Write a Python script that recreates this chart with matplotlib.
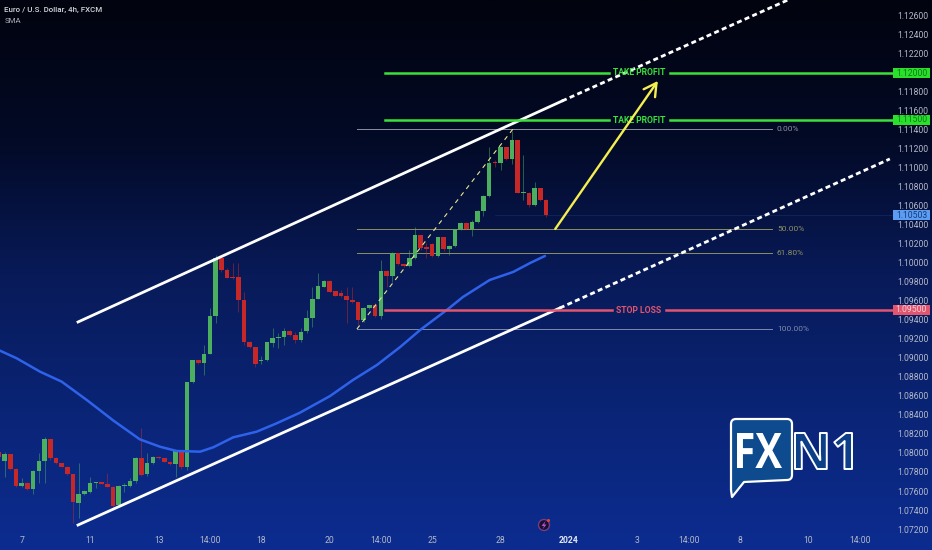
import numpy as np
import matplotlib
matplotlib.use('Agg')
import matplotlib.pyplot as plt
from matplotlib.colors import LinearSegmentedColormap
from matplotlib.font_manager import FontProperties
from matplotlib.patches import Circle, FancyArrowPatch, PathPatch, Polygon
from matplotlib.path import Path
from matplotlib.textpath import TextPath
from matplotlib.transforms import Affine2D

plt.rcParams['font.family'] = ['Roboto', 'DejaVu Sans']

opens = [1.08013, 1.07919, 1.07989, 1.07828, 1.07652, 1.07687, 1.07624, 1.07806, 1.07915, 1.08150,
         1.07947, 1.07891, 1.07849, 1.07778, 1.07477, 1.07568, 1.07592, 1.07684, 1.07691, 1.07673,
         1.07645, 1.07452, 1.07652, 1.07656, 1.07701, 1.07943, 1.07775, 1.07891, 1.07957, 1.07943,
         1.07908, 1.07884, 1.08017, 1.07849, 1.08743, 1.08975, 1.08947, 1.09045, 1.09442, 1.10049,
         1.09926, 1.09852, 1.09849, 1.09610, 1.09171, 1.09112, 1.08971, 1.08978, 1.09161, 1.09207,
         1.09217, 1.09284, 1.09242, 1.09189, 1.09284, 1.09417, 1.09624, 1.09751, 1.09814, 1.09702,
         1.09681, 1.09652, 1.09610, 1.09586, 1.09400, 1.09526, 1.09554, 1.09446, 1.09916, 1.09867,
         1.10109, 1.09986, 1.09969, 1.10049, 1.10295, 1.10165, 1.10197, 1.10078, 1.10274, 1.10148,
         1.10179, 1.10355, 1.10425, 1.10362, 1.10435, 1.10551, 1.10706, 1.11067, 1.11057, 1.11218,
         1.11092, 1.11295, 1.10734, 1.10741, 1.10611, 1.10793, 1.10664]
highs = [1.08031, 1.08013, 1.07989, 1.07838, 1.07733, 1.07698, 1.07821, 1.07996, 1.08171, 1.08150,
         1.07954, 1.07898, 1.07863, 1.07778, 1.07891, 1.07606, 1.07750, 1.07698, 1.07698, 1.07785,
         1.07652, 1.07663, 1.07680, 1.07733, 1.07961, 1.08259, 1.07996, 1.07968, 1.07965, 1.07950,
         1.07915, 1.08031, 1.08031, 1.08743, 1.08979, 1.08982, 1.09136, 1.09522, 1.10084, 1.10049,
         1.09943, 1.09996, 1.09996, 1.09698, 1.09178, 1.09119, 1.09021, 1.09171, 1.09312, 1.09259,
         1.09312, 1.09294, 1.09277, 1.09312, 1.09505, 1.09751, 1.09891, 1.09821, 1.09821, 1.09709,
         1.09716, 1.09751, 1.09751, 1.09586, 1.09540, 1.09561, 1.09575, 1.10032, 1.09927, 1.10120,
         1.10109, 1.09993, 1.10137, 1.10383, 1.10295, 1.10207, 1.10207, 1.10278, 1.10274, 1.10190,
         1.10358, 1.10435, 1.10432, 1.10453, 1.10558, 1.10716, 1.11225, 1.11085, 1.11232, 1.11225,
         1.11393, 1.11295, 1.11137, 1.10751, 1.10857, 1.10793, 1.10671]
lows = [1.07954, 1.07750, 1.07821, 1.07638, 1.07645, 1.07610, 1.07568, 1.07680, 1.07680, 1.07926,
        1.07884, 1.07849, 1.07768, 1.07259, 1.07312, 1.07561, 1.07575, 1.07627, 1.07670, 1.07638,
        1.07435, 1.07435, 1.07592, 1.07645, 1.07687, 1.07757, 1.07757, 1.07884, 1.07940, 1.07901,
        1.07877, 1.07750, 1.07835, 1.07821, 1.08733, 1.08940, 1.08821, 1.09042, 1.09364, 1.09908,
        1.09838, 1.09835, 1.09487, 1.09136, 1.09105, 1.08908, 1.08936, 1.08971, 1.09119, 1.09101,
        1.09136, 1.09235, 1.09154, 1.09171, 1.09266, 1.09323, 1.09617, 1.09744, 1.09691, 1.09649,
        1.09638, 1.09365, 1.09575, 1.09347, 1.09382, 1.09519, 1.09435, 1.09407, 1.09751, 1.09804,
        1.09979, 1.09962, 1.09955, 1.10042, 1.10137, 1.10049, 1.10067, 1.10067, 1.10130, 1.10085,
        1.10165, 1.10348, 1.10355, 1.10285, 1.10418, 1.10495, 1.10699, 1.11007, 1.10979, 1.11085,
        1.11043, 1.10734, 1.10664, 1.10593, 1.10604, 1.10657, 1.10481]
closes = [1.07961, 1.07989, 1.07828, 1.07652, 1.07687, 1.07624, 1.07806, 1.07915, 1.08150, 1.07947,
          1.07891, 1.07856, 1.07778, 1.07480, 1.07568, 1.07599, 1.07687, 1.07691, 1.07677, 1.07645,
          1.07445, 1.07656, 1.07659, 1.07701, 1.07947, 1.07771, 1.07891, 1.07954, 1.07947, 1.07908,
          1.07884, 1.08017, 1.07849, 1.08743, 1.08975, 1.08947, 1.09045, 1.09442, 1.10049, 1.09926,
          1.09845, 1.09842, 1.09610, 1.09171, 1.09112, 1.08936, 1.08978, 1.09164, 1.09207, 1.09224,
          1.09284, 1.09242, 1.09189, 1.09277, 1.09417, 1.09624, 1.09758, 1.09814, 1.09698, 1.09656,
          1.09652, 1.09610, 1.09586, 1.09400, 1.09526, 1.09554, 1.09442, 1.09916, 1.09867, 1.10109,
          1.09986, 1.09969, 1.10049, 1.10295, 1.10155, 1.10148, 1.10074, 1.10274, 1.10144, 1.10183,
          1.10355, 1.10425, 1.10362, 1.10435, 1.10551, 1.10706, 1.11057, 1.11057, 1.11218, 1.11092,
          1.11295, 1.10741, 1.10751, 1.10611, 1.10793, 1.10664, 1.10506]

sma_x = [0.18, 3.1, 7.2, 11, 15.4, 20.1, 24.7, 28.25, 31.2, 35.3, 37.6, 41.1, 45.2, 48.7, 52.8,
         58.1, 62.1, 66.3, 70.4, 73.9, 78.8, 81.4, 86.1, 90.2, 93.2, 95.8]
sma_y = [1.09077, 1.08997, 1.08856, 1.08751, 1.08558, 1.08340, 1.08144, 1.08066, 1.08021, 1.08014,
         1.08060, 1.08165, 1.08224, 1.08312, 1.08424, 1.08600, 1.08768, 1.08926, 1.09116, 1.09295,
         1.09516, 1.09642, 1.09821, 1.09905, 1.10000, 1.10074]

x_ticks = [4, 16, 28, 37, 46, 58, 67, 76, 88, 100, 112, 121, 130, 142, 151]
x_labels = ['7', '11', '13', '14:00', '18', '20', '14:00', '25', '28', '2024', '3', '14:00', '8', '10', '14:00']
y_ticks = [1.072 + 0.002 * i for i in range(28)]

upper_x, upper_y = [13.87, 98.8, 138.4], [1.09379, 1.11705, 1.12768]
lower_x, lower_y = [13.87, 98.4, 156.3], [1.07242, 1.09526, 1.11095]
fib_levels = [1.11411, 1.10358, 1.10105, 1.09305]
fib_labels = ['0.00%', '50.00%', '61.80%', '100.00%']
fib_colors = ['#8c8f9c', '#8f9060', '#8f9060', '#7f89a8']
take_profit = [1.12, 1.115]
stop_loss = 1.095
last_price = 1.10503

GREEN = '#4caf5f'
RED = '#c62828'
LIME = '#3be03b'
PINK = '#e2556e'

fig = plt.figure(figsize=(9.32, 5.5), dpi=100)
ax = fig.add_axes([0, 0, 1, 1])

bg = LinearSegmentedColormap.from_list('bg', ['#01030e', '#030a26', '#081a58', '#0a2476', '#0c2c90'])
ax.imshow(np.linspace(0, 1, 256).reshape(-1, 1), aspect='auto', cmap=bg, extent=(0, 1, 0, 1),
          transform=ax.transAxes, zorder=0)
ax.set_xlim(0.18, 163.7)
ax.set_ylim(1.06979, 1.12768)

# candles
xs = np.arange(len(opens))
for x, o, h, l, c in zip(xs, opens, highs, lows, closes):
    col = GREEN if c >= o else RED
    ax.vlines(x, l, h, color=col, lw=0.7, alpha=0.5, zorder=3)
    ax.bar(x, abs(c - o), bottom=min(o, c), width=0.8, color=col, lw=0, zorder=3)

ax.plot(sma_x, sma_y, color='#2f62ea', lw=1.8, zorder=4, solid_capstyle='round', solid_joinstyle='round')

# channel lines
for cx, cy in ((upper_x, upper_y), (lower_x, lower_y)):
    ax.plot(cx[:2], cy[:2], color='white', lw=2, zorder=5)
    ax.plot(cx[1:], cy[1:], color='white', lw=2, ls=(0, (1.8, 1.2)), zorder=5)

# fib
for lev, lab, col in zip(fib_levels, fib_labels, fib_colors):
    ax.plot([62.8, 135.6], [lev, lev], color=col, lw=0.7, zorder=2)
    ax.text(136.5, lev, lab, color=col, fontsize=6, va='center', ha='left', zorder=6)
ax.plot([62.8, 90.2], [fib_levels[3], fib_levels[0]], color='#e8e88a', lw=0.8, ls=(0, (4, 4)), zorder=5)

# trade levels, the line is broken around its label
for lev in take_profit:
    ax.plot([67.7, 107], [lev, lev], color=LIME, lw=1.8, zorder=5)
    ax.plot([117.7, 157], [lev, lev], color=LIME, lw=1.8, zorder=5)
    ax.text(112.4, lev, 'TAKE PROFIT', color=LIME, fontsize=6.2, fontweight='bold', va='center', ha='center', zorder=6)
ax.plot([67.7, 107.5], [stop_loss, stop_loss], color=PINK, lw=1.8, zorder=5)
ax.plot([117, 157], [stop_loss, stop_loss], color=PINK, lw=1.8, zorder=5)
ax.text(112.3, stop_loss, 'STOP LOSS', color=PINK, fontsize=6.2, fontweight='bold', va='center', ha='center', zorder=6)
ax.plot([87, 157], [last_price, last_price], color='#3f6fc0', lw=0.4, alpha=0.3, zorder=2)

ax.add_patch(FancyArrowPatch((97.6, 1.10358), (115.6, 1.11916), arrowstyle='->,head_length=9,head_width=5',
                             color='#f4ee50', lw=1.7, zorder=6, shrinkA=0, shrinkB=0))

# axes labels
ax.set_xticks(x_ticks, x_labels)
ax.set_yticks(y_ticks, ['%.5f' % t for t in y_ticks])
ax.yaxis.tick_right()
ax.tick_params(axis='x', length=0, pad=-10, labelsize=6.2, labelcolor='#b4b9c8')
ax.tick_params(axis='y', length=0, pad=-25, labelsize=6.2, labelcolor='#b4b9c8')
year_label = ax.get_xticklabels()[x_labels.index('2024')]
year_label.set_fontweight('bold')
year_label.set_color('#e4e8f4')
for s in ax.spines.values():
    s.set_visible(False)

ax.text(0.0045, 0.982, 'Euro / U.S. Dollar, 4h, FXCM', transform=ax.transAxes, color='#d6d8de',
        fontsize=5.7, va='center', fontweight='medium')
ax.text(0.0045, 0.962, 'SMA', transform=ax.transAxes, color='#a8acb8', fontsize=5.7, va='center')

# overlay in pixels for price tags and logo
ov = fig.add_axes([0, 0, 1, 1], facecolor='none')
ov.set_xlim(0, 932)
ov.set_ylim(550, 0)
ov.axis('off')
for y, txt, bgc, fc in ((73, '1.12000', '#2be02b', '#0c7a1c'), (120, '1.11500', '#2be02b', '#0c7a1c'),
                        (310, '1.09500', '#e2556e', '#f7d0d8'), (215, '1.10503', '#5c9cf2', '#123a78')):
    ov.add_patch(plt.Rectangle((893, y - 5), 37, 10, fc=bgc, ec='none'))
    ov.text(911.5, y, txt, color=fc, fontsize=6.2, ha='center', va='center')


def boxed_text(s, x0, y0, x1, y1, **kw):
    # glyph outlines stretched onto a pixel box, y flipped for the overlay
    tp = TextPath((0, 0), s, size=10, prop=FontProperties(family='Open Sans', weight='bold'))
    ext = tp.get_extents()
    tr = (Affine2D().translate(-ext.x0, -ext.y0)
          .scale((x1 - x0) / ext.width, -(y1 - y0) / ext.height)
          .translate(x0, y1))
    ov.add_patch(PathPatch(tr.transform_path(tp), **kw))


# speech bubble with rounded corners
r = 5
verts = [(731 + r, 419), (792 - r, 419), (792, 419), (792, 419 + r), (792, 480 - r), (792, 480), (792 - r, 480),
         (744, 482), (732, 497), (731, 490), (731, 419 + r), (731, 419), (731 + r, 419), (731 + r, 419)]
codes = [Path.MOVETO, Path.LINETO, Path.CURVE3, Path.CURVE3, Path.LINETO, Path.CURVE3, Path.CURVE3,
         Path.LINETO, Path.LINETO, Path.LINETO, Path.LINETO, Path.CURVE3, Path.CURVE3, Path.CLOSEPOLY]
ov.add_patch(PathPatch(Path(verts, codes), fc='#0d4a8e', ec='white', lw=1.6, joinstyle='round'))
boxed_text('FX', 737, 433, 782, 468, fc='white', ec='none')
boxed_text('N1', 795, 433, 852, 469, fc='#0d3f88', ec='white', lw=1.4, joinstyle='round')

# small bolt badge above the time axis
ov.add_patch(Circle((544, 525), 5.5, fc='#14122e', ec='#7a3a86', lw=1))
ov.add_patch(Polygon([(545.5, 521), (541.5, 526), (544, 526), (542.5, 529.5), (546.5, 524.5), (544.2, 524.5)],
                     closed=True, fc='#c04ad0', ec='none'))
ov.add_patch(Circle((548.5, 520.5), 1.5, fc='#e8443a', ec='none'))

fig.savefig('out.png', dpi=100)
